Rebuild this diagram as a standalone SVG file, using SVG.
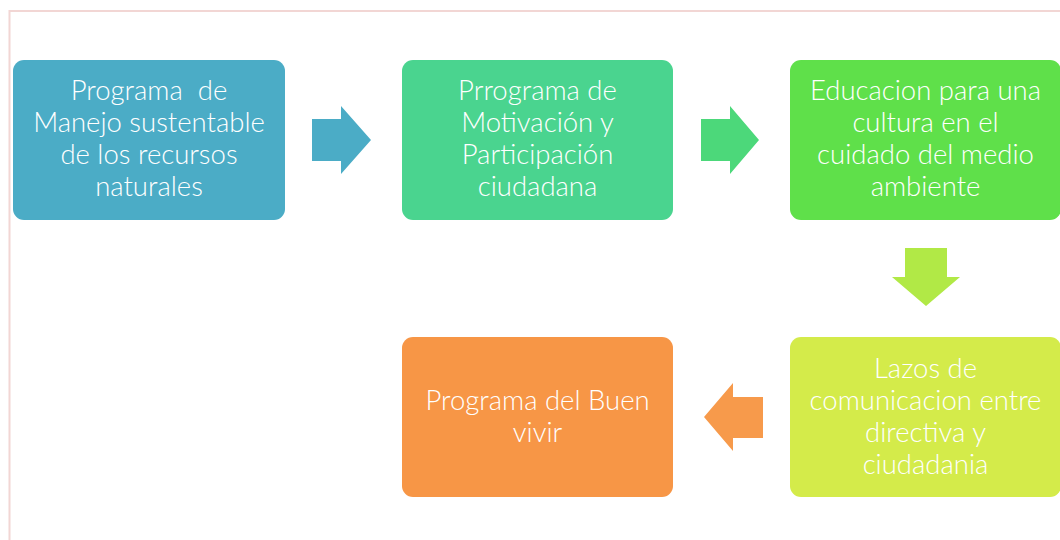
<svg xmlns="http://www.w3.org/2000/svg" width="1060" height="540" viewBox="0 0 1060 540">
<style>
.t{font-family:Lato,"Open Sans","Liberation Sans",sans-serif;font-size:27.5px;font-weight:300;fill:#ffffff;text-anchor:middle;white-space:pre}
</style>
<rect x="0" y="0" width="1060" height="540" fill="#ffffff"/>
<path d="M9.5 540 V11 H1060" fill="none" stroke="#f2d6d4" stroke-width="2"/>
<g id="connectors">
<polygon points="312,119 341,119 341,106 371,140 341,174 341,161 312,161" fill="#4bacc6"/>
<polygon points="701,119 730,119 730,106 759,140 730,174 730,161 701,161" fill="#4cd87a"/>
<polygon points="905,248 947,248 947,277 960,277 926,306 892,277 905,277" fill="#b1e946"/>
<polygon points="763,397 733,397 733,383 704,417 733,451 733,438 763,438" fill="#f79a4b"/>
</g>
<g id="n1">
<rect x="13" y="60" width="272" height="160" rx="11" fill="#4bacc6"/>
<text class="t" x="149" y="100" xml:space="preserve">Programa  de</text>
<text class="t" x="149" y="132">Manejo sustentable</text>
<text class="t" x="149" y="164">de los recursos</text>
<text class="t" x="149" y="196">naturales</text>
</g>
<g id="n2">
<rect x="402" y="60" width="271" height="160" rx="11" fill="#4ad48f"/>
<text class="t" x="537.5" y="100">Prrograma de</text>
<text class="t" x="537.5" y="132">Motivación y</text>
<text class="t" x="537.5" y="164">Participación</text>
<text class="t" x="537.5" y="196">ciudadana</text>
</g>
<g id="n3">
<rect x="790" y="60" width="271" height="160" rx="11" fill="#5fe04a"/>
<text class="t" x="925.5" y="100">Educacion para una</text>
<text class="t" x="925.5" y="132">cultura en el</text>
<text class="t" x="925.5" y="164">cuidado del medio</text>
<text class="t" x="925.5" y="196">ambiente</text>
</g>
<g id="n4">
<rect x="790" y="337" width="271" height="160" rx="11" fill="#d4eb4a"/>
<text class="t" x="925.5" y="378">Lazos de</text>
<text class="t" x="925.5" y="410">comunicacion entre</text>
<text class="t" x="925.5" y="442">directiva y</text>
<text class="t" x="925.5" y="474">ciudadania</text>
</g>
<g id="n5">
<rect x="402" y="337" width="271" height="160" rx="11" fill="#f79646"/>
<text class="t" x="537.5" y="410">Programa del Buen</text>
<text class="t" x="537.5" y="442">vivir</text>
</g>
</svg>
